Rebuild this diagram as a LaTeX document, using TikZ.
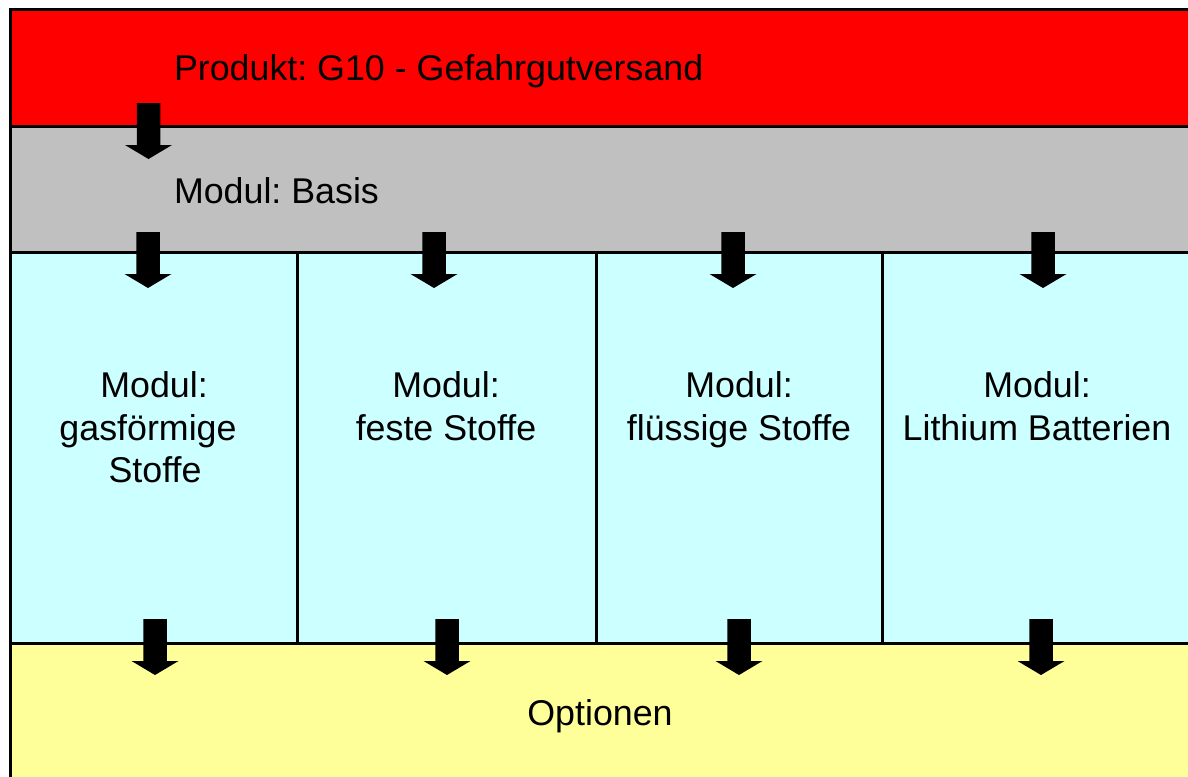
\documentclass[tikz,border=0pt]{standalone}
\usepackage{fontspec}
\setmainfont{Liberation Sans}
\frenchspacing
\definecolor{bandred}{HTML}{FF0000}
\definecolor{bandgray}{HTML}{C0C0C0}
\definecolor{bandcyan}{HTML}{CCFFFF}
\definecolor{bandyellow}{HTML}{FFFF99}
\begin{document}
\begin{tikzpicture}[x=1pt,y=-1pt,
  band/.style={draw=black, line width=3pt, anchor=north west, inner sep=0pt, outer sep=0pt},
  lbl/.style={font=\fontsize{35.8}{43}\selectfont, inner sep=0pt, outer sep=0pt, text=black},
  blockarrow/.pic={\fill[black] (-11.75,0) -- (11.75,0) -- (11.75,42) -- (23.5,42) -- (0,56) -- (-23.5,42) -- (-11.75,42) -- cycle;}
]
\useasboundingbox (0,0) rectangle (1188,776);
\fill[white] (0,0) rectangle (1188,776);
\clip (0,0) rectangle (1188,776);
% bands
\node[band, fill=bandred, minimum width=1190pt, minimum height=116pt] (produkt) at (10,10) {};
\node[band, fill=bandgray, minimum width=1190pt, minimum height=126pt] (basis) at (10,126) {};
\node[band, fill=bandcyan, minimum width=287pt, minimum height=391pt] (gas) at (10,252) {};
\node[band, fill=bandcyan, minimum width=299pt, minimum height=391pt] (fest) at (297,252) {};
\node[band, fill=bandcyan, minimum width=286pt, minimum height=391pt] (fluessig) at (596,252) {};
\node[band, fill=bandcyan, minimum width=320pt, minimum height=391pt] (lithium) at (882,252) {};
\node[band, fill=bandyellow, minimum width=1190pt, minimum height=150pt] (optionen) at (10,643) {};
% labels
\node[lbl, anchor=base west] (tprodukt) at (174,81) {Produkt: G10 - Gefahrgutversand};
\node[lbl, anchor=base west] (tbasis) at (174,203) {Modul: Basis};
\node[lbl, anchor=base] (tgas1) at (154,397) {Modul:};
\node[lbl, anchor=base] (tgas2) at (148,440) {gasförmige};
\node[lbl, anchor=base] (tgas3) at (155,482) {Stoffe};
\node[lbl, anchor=base] (tfest1) at (446,397) {Modul:};
\node[lbl, anchor=base] (tfest2) at (446,440) {feste Stoffe};
\node[lbl, anchor=base] (tfl1) at (739,397) {Modul:};
\node[lbl, anchor=base] (tfl2) at (739,440) {flüssige Stoffe};
\node[lbl, anchor=base] (tli1) at (1037,397) {Modul:};
\node[lbl, anchor=base] (tli2) at (1037,440) {Lithium Batterien};
\node[lbl, anchor=base] (topt) at (600,725) {Optionen};
% block arrows
\pic at (148.5,103) {blockarrow};
\pic at (148,232) {blockarrow};
\pic at (434,232) {blockarrow};
\pic at (733,232) {blockarrow};
\pic at (1043,232) {blockarrow};
\pic at (155,619) {blockarrow};
\pic at (447,619) {blockarrow};
\pic at (739,619) {blockarrow};
\pic at (1041,619) {blockarrow};
\end{tikzpicture}
\end{document}
